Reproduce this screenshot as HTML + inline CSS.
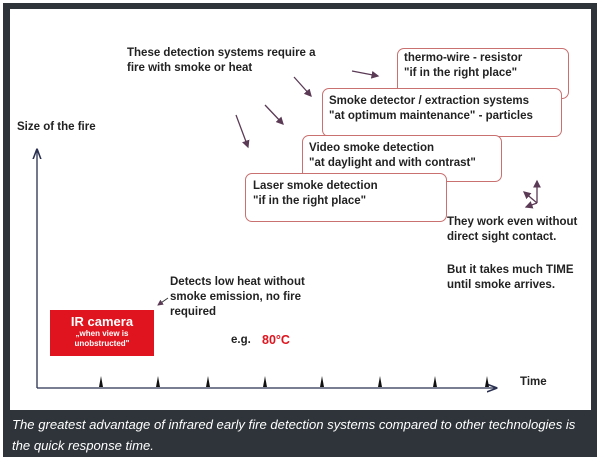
<!DOCTYPE html>
<html><head><meta charset="utf-8"><style>
html,body{margin:0;padding:0;width:600px;height:460px;overflow:hidden;background:#fff}
.t{position:absolute;font-family:"Liberation Sans",Arial,sans-serif;font-weight:bold;font-size:11.5px;color:#222;line-height:15px;white-space:nowrap}
.box{position:absolute;background:#fff;border:1.5px solid #c97070;border-radius:7px}
</style></head><body>
<div style="position:absolute;left:3px;top:3px;width:594px;height:454px;background:#2e3439"></div>
<div style="position:absolute;left:10px;top:9px;width:581px;height:401px;background:#fff"></div>
<div class="t" style="left:127px;top:46px">These detection systems require a<br>fire with smoke or heat</div>
<div class="box" style="left:397px;top:48px;width:170px;height:49px"></div>
<div class="t" style="left:404px;top:51px">thermo-wire - resistor<br>"if in the right place"</div>
<div class="box" style="left:322px;top:88px;width:238px;height:47px"></div>
<div class="t" style="left:329px;top:94px">Smoke detector / extraction systems<br>"at optimum maintenance" - particles</div>
<div class="box" style="left:302px;top:135px;width:198px;height:45px"></div>
<div class="t" style="left:309px;top:141px">Video smoke detection<br>"at daylight and with contrast"</div>
<div class="box" style="left:245px;top:173px;width:200px;height:47px"></div>
<div class="t" style="left:253px;top:179px">Laser smoke detection<br>"if in the right place"</div>
<div class="t" style="left:17px;top:120px">Size of the fire</div>
<div class="t" style="left:447px;top:215px">They work even without<br>direct sight contact.</div>
<div class="t" style="left:447px;top:263px">But it takes much TIME<br>until smoke arrives.</div>
<div class="t" style="left:170px;top:275px">Detects low heat without<br>smoke emission, no fire<br>required</div>
<div style="position:absolute;left:50px;top:310px;width:104px;height:46px;background:#e0141e;color:#fff;text-align:center;font-family:'Liberation Sans',Arial,sans-serif;font-weight:bold">
<div style="font-size:13px;margin-top:4px">IR camera</div><div style="font-size:8px;line-height:10px">„when view is<br>unobstructed"</div></div>
<div class="t" style="left:231px;top:333px">e.g.</div>
<div class="t" style="left:262px;top:333px;color:#e0141e;font-size:12.5px">80°C</div>
<div class="t" style="left:520px;top:375px">Time</div>
<svg style="position:absolute;left:0;top:0" width="600" height="460">
<defs><marker id="a" markerWidth="6" markerHeight="6" refX="5" refY="3" orient="auto"><path d="M0,0L6,3L0,6z" fill="#5a3a55"/></marker>
<marker id="b" markerWidth="8" markerHeight="8" refX="7" refY="4" orient="auto"><path d="M0,1L8,4L0,7" fill="none" stroke="#2a3050" stroke-width="1.2"/></marker></defs>
<g stroke="#5a3a55" stroke-width="1.3" marker-end="url(#a)">
<line x1="352" y1="71" x2="378" y2="76"/><line x1="294" y1="77" x2="311" y2="96"/><line x1="265" y1="105" x2="283" y2="124"/><line x1="236" y1="115" x2="248" y2="147"/>
<line x1="537" y1="203" x2="537" y2="181"/><line x1="537" y1="203" x2="524" y2="192"/><line x1="537" y1="203" x2="526" y2="207"/>
</g>
<line x1="168" y1="298" x2="158" y2="305" stroke="#333" stroke-width="1" marker-end="url(#a)"/>
<line x1="37" y1="388" x2="37" y2="150" stroke="#2a3050" stroke-width="1.3" marker-end="url(#b)"/>
<line x1="37" y1="388" x2="496" y2="388" stroke="#2a3050" stroke-width="1.3" marker-end="url(#b)"/>
<g fill="#111">
<path d="M99,387L101,376L103,387z"/><path d="M156,387L158,376L160,387z"/><path d="M206,387L208,376L210,387z"/><path d="M263,387L265,376L267,387z"/><path d="M320,387L322,376L324,387z"/><path d="M378,387L380,376L382,387z"/><path d="M433,387L435,376L437,387z"/><path d="M485,387L487,376L489,387z"/>
</g></svg>
<div style="position:absolute;left:12px;top:414px;font-family:'Liberation Sans',Arial,sans-serif;font-style:italic;font-size:13.1px;line-height:21px;color:#fff;white-space:nowrap">The greatest advantage of infrared early fire detection systems compared to other technologies is<br>the quick response time.</div>
</body></html>
